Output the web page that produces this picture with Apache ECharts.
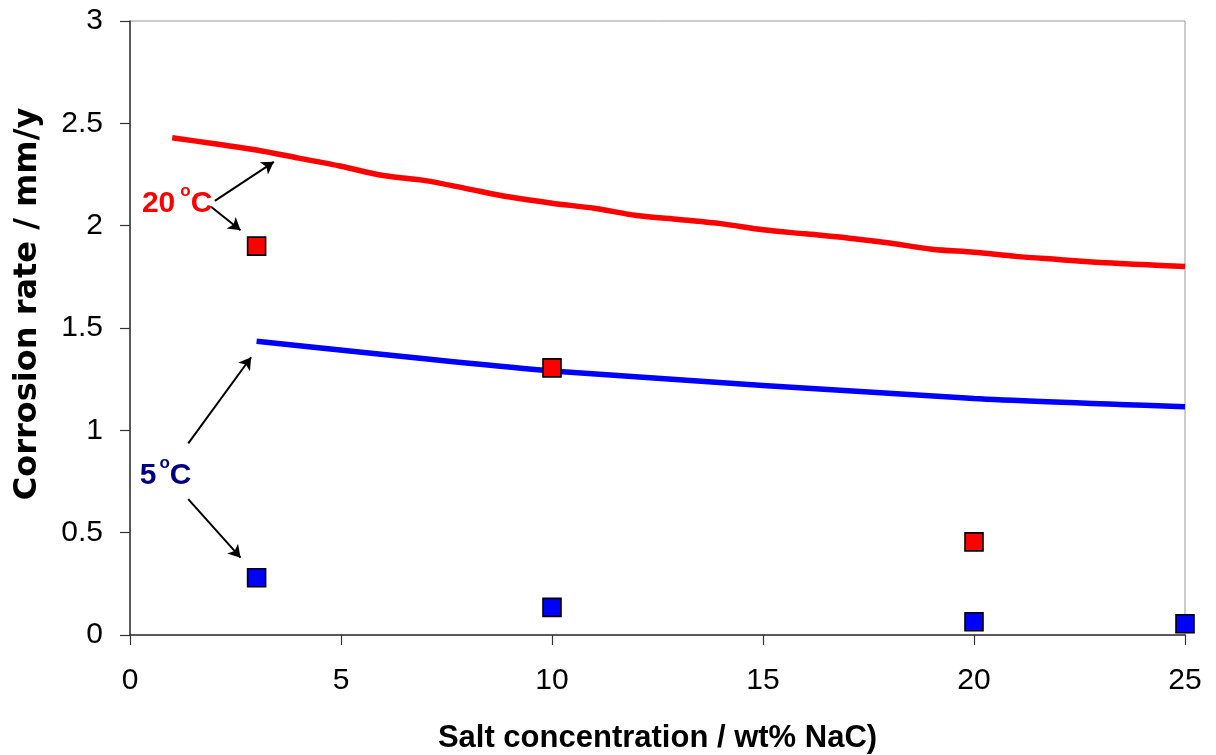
<!DOCTYPE html>
<html>
<head>
<meta charset="utf-8">
<script src="https://cdn.jsdelivr.net/npm/echarts@6/dist/echarts.min.js"></script>
<style>
html,body{margin:0;padding:0;background:#fff;}
#chart{width:1216px;height:755px;}
</style>
</head>
<body>
<div id="chart"></div>
<script>
// ---- data ----
var redLineX = [1,2,3,4,5,6,7,8,9,10,11,12,13,14,15,16,17,18,19,20,21,22,23,24,25];
var redLineY = [2.43,2.40,2.37,2.33,2.29,2.245,2.22,2.18,2.14,2.11,2.085,2.05,2.03,2.01,1.98,1.96,1.94,1.915,1.885,1.87,1.85,1.835,1.82,1.81,1.80];
var blueLineX = [3,10,20,25];
var blueLineY = [1.435,1.29,1.155,1.115];
var redPointsX = [3,10,20];
var redPointsY = [1.90,1.305,0.455];
var bluePointsX = [3,10,20,25];
var bluePointsY = [0.28,0.135,0.065,0.055];
var xTicks = [0,5,10,15,20,25];
var yTicks = [0,0.5,1,1.5,2,2.5,3];
var xTitle = 'Salt concentration / wt% NaC)';
var yTitle = 'Corrosion rate / mm/y';
// annotation anchors (data coords)
var labels20 = {x:0.27, y:2.108};
var labels5 = {x:0.22, y:0.780};
var arrows = [
  [[2.01,2.121],[3.41,2.312]],
  [[1.92,2.092],[2.62,1.978]],
  [[1.38,0.936],[2.87,1.357]],
  [[1.38,0.664],[2.62,0.378]]
];

function pairs(xs, ys){ return xs.map(function(x,i){ return [x, ys[i]]; }); }

var FONT = '"Liberation Sans", Arial, sans-serif';
var chart = echarts.init(document.getElementById('chart'));

function annLabel(main1, main2, color, padL){
  return {show:true, position:'right', distance:0, opacity:1, textBorderWidth:0,
    formatter:'{a|' + main1 + '}{s|o}{a|' + main2 + '}',
    rich:{a:{fontFamily:FONT, fontWeight:'bold', fontSize:30, lineHeight:42, color:color, opacity:1},
          s:{fontFamily:FONT, fontWeight:'bold', fontSize:17, lineHeight:12, verticalAlign:'top', color:color, opacity:1, padding:[0,0,0,padL]}}};
}

chart.setOption({
  animation: false,
  backgroundColor: '#fff',
  grid: {left:130, right:31, top:21, bottom:120, show:true, borderColor:'#999', borderWidth:1,
         containLabel:false, outerBoundsMode:'none'},
  xAxis: {
    type:'value', min:xTicks[0], max:xTicks[xTicks.length-1], interval:5,
    name: xTitle, nameLocation:'middle', nameGap:88,
    nameTextStyle:{fontFamily:FONT, fontWeight:'bold', fontSize:31, color:'#000'},
    axisLine:{show:true, onZero:false, lineStyle:{color:'#333', width:1.5}},
    axisTick:{show:true, inside:false, length:10, lineStyle:{color:'#333', width:1.2}},
    axisLabel:{fontFamily:FONT, fontSize:30, color:'#000', margin:31},
    splitLine:{show:false}
  },
  yAxis: {
    type:'value', min:yTicks[0], max:yTicks[yTicks.length-1], interval:0.5,
    name: yTitle, nameLocation:'middle', nameGap:86, nameRotate:90,
    nameTextStyle:{fontFamily:'"DejaVu Sans", sans-serif', fontWeight:'bold', fontSize:32, color:'#000', padding:[0,0,0,48]},
    axisLine:{show:true, onZero:false, lineStyle:{color:'#333', width:1.5}},
    axisTick:{show:true, inside:false, length:10, lineStyle:{color:'#333', width:1.2}},
    axisLabel:{fontFamily:FONT, fontSize:30, color:'#000', margin:27},
    splitLine:{show:false}
  },
  series: [
    {type:'line', data:pairs(redLineX, redLineY), symbol:'none', smooth:0.3,
     lineStyle:{color:'#ff0000', width:5.5}, z:3},
    {type:'line', data:pairs(blueLineX, blueLineY), symbol:'none', smooth:0.2,
     lineStyle:{color:'#0000ff', width:5.5}, z:3},
    {type:'scatter', data:pairs(redPointsX, redPointsY), symbol:'rect', symbolSize:18, clip:false,
     itemStyle:{color:'#ff0000', borderColor:'#000', borderWidth:1.6, opacity:1}, z:5},
    {type:'scatter', data:pairs(bluePointsX, bluePointsY), symbol:'rect', symbolSize:18, clip:false,
     itemStyle:{color:'#0000ff', borderColor:'#000', borderWidth:1.6, opacity:1}, z:5},
    {type:'scatter', symbol:'circle', symbolSize:1, silent:true, clip:false, z:6,
     itemStyle:{color:'rgba(255,255,255,0)', borderWidth:0},
     data:[
       {value:[labels20.x, labels20.y], label:annLabel('20','C','#ff0000',5)},
       {value:[labels5.x, labels5.y], label:annLabel('5','C','#000080',3)}
     ],
     markLine:{
       silent:true, symbol:['none','arrow'], symbolSize:[11,12], animation:false,
       label:{show:false},
       lineStyle:{color:'#000', width:2, type:'solid', opacity:1},
       data: arrows.map(function(a){ return [{coord:a[0]},{coord:a[1]}]; })
     }
    }
  ]
});
</script>
</body>
</html>
